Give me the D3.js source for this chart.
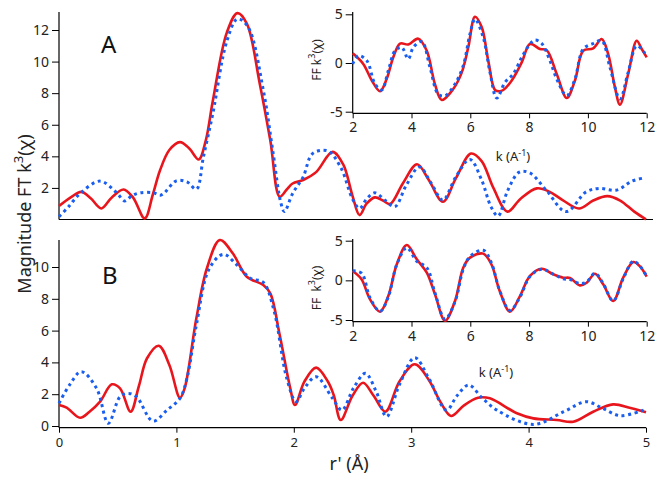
<!DOCTYPE html>
<html><head><meta charset="utf-8">
<script src="https://cdn.jsdelivr.net/npm/d3@7"></script>
<style>
body{margin:0;background:#fff;}
svg{display:block;font-family:"Noto Sans",sans-serif;}
</style></head>
<body><svg id="c" width="663" height="481"></svg>
<script>
// ---- data ----
const rTicks=[0,1,2,3,4,5];
const yTicksA=[2,4,6,8,10,12];
const yTicksB=[0,2,4,6,8,10];
const kTicks=[2,4,6,8,10,12];
const insetYTicks=[-5,0,5];

const redA=[[0,0.85],[0.1,1.4],[0.19,1.75],[0.27,1.35],[0.36,0.7],[0.45,1.4],[0.55,1.9],[0.63,1.4],[0.73,0.07],[0.8,1.6],[0.86,3.1],[0.94,4.4],[1.03,4.9],[1.11,4.5],[1.19,3.8],[1.25,5.0],[1.31,7.5],[1.43,11.85],[1.52,13.07],[1.6,12.4],[1.71,8.6],[1.8,5.0],[1.88,1.44],[1.94,1.9],[1.99,2.28],[2.08,2.5],[2.19,3.0],[2.33,4.28],[2.42,3.5],[2.5,1.5],[2.56,0.28],[2.62,1.0],[2.69,1.4],[2.76,1.2],[2.82,0.98],[2.93,2.3],[3.05,3.5],[3.15,2.5],[3.27,1.12],[3.38,2.6],[3.51,4.18],[3.6,3.7],[3.7,2.0],[3.82,0.5],[3.93,1.3],[4.07,1.97],[4.18,1.75],[4.29,1.23],[4.43,0.7],[4.55,1.2],[4.67,1.48],[4.78,1.2],[4.9,0.5],[5.0,0.01]];
const blueA=[[0,0.18],[0.08,0.8],[0.18,1.65],[0.35,2.43],[0.49,1.7],[0.56,1.17],[0.62,1.5],[0.69,1.69],[0.8,1.7],[0.87,1.55],[1.0,2.45],[1.09,2.38],[1.17,1.92],[1.23,3.96],[1.31,6.7],[1.43,11.3],[1.52,12.7],[1.61,12.2],[1.74,8.2],[1.82,4.4],[1.89,1.04],[1.92,0.5],[1.99,1.65],[2.08,2.7],[2.16,4.17],[2.29,4.34],[2.4,3.3],[2.5,1.3],[2.56,0.7],[2.62,1.3],[2.69,1.69],[2.78,1.2],[2.86,0.81],[2.96,2.2],[3.07,3.33],[3.17,2.3],[3.27,1.23],[3.38,2.7],[3.5,3.8],[3.6,2.5],[3.68,0.8],[3.74,0.22],[3.82,1.8],[3.92,3.0],[4.01,2.95],[4.15,1.86],[4.32,0.5],[4.49,1.75],[4.6,1.97],[4.75,1.86],[4.88,2.43],[4.99,2.64]];
const redB=[[0,1.32],[0.065,1.15],[0.18,0.52],[0.26,0.9],[0.35,1.53],[0.45,2.62],[0.52,2.37],[0.61,0.9],[0.68,2.5],[0.75,4.26],[0.85,5.05],[0.94,3.84],[1.03,1.78],[1.07,2.37],[1.17,6.77],[1.26,9.92],[1.37,11.7],[1.48,10.86],[1.6,9.39],[1.74,8.87],[1.8,8.34],[1.88,5.72],[1.97,2.37],[2.01,1.32],[2.09,2.79],[2.19,3.67],[2.29,2.8],[2.34,1.95],[2.4,0.38],[2.5,1.9],[2.59,2.72],[2.68,1.9],[2.78,0.9],[2.9,2.8],[3.03,3.88],[3.15,2.9],[3.25,1.5],[3.34,0.63],[3.45,1.3],[3.57,1.78],[3.67,1.74],[3.9,0.8],[4.04,0.48],[4.24,0.38],[4.38,0.27],[4.55,0.9],[4.72,1.36],[4.86,1.15],[5.0,0.86]];
const blueB=[[0,1.43],[0.09,2.58],[0.19,3.42],[0.32,2.37],[0.42,0.17],[0.52,1.84],[0.59,2.05],[0.66,1.84],[0.8,0.31],[0.92,1.0],[1.03,1.74],[1.09,3.0],[1.17,6.35],[1.28,9.9],[1.4,10.8],[1.51,10.17],[1.63,9.29],[1.74,9.03],[1.83,7.3],[1.94,3.0],[2.02,1.53],[2.09,2.37],[2.19,3.1],[2.33,1.74],[2.41,1.0],[2.51,2.4],[2.61,3.31],[2.7,2.2],[2.79,0.59],[2.9,2.6],[3.03,4.3],[3.15,3.0],[3.3,1.0],[3.39,1.9],[3.49,2.58],[3.6,1.8],[3.73,1.0],[4.04,0.1],[4.3,0.9],[4.49,1.53],[4.63,1.11],[4.78,0.65],[4.98,1.0]];

const insetRedA=[[2,0.99],[2.36,-0.1],[2.65,-1.8],[2.93,-2.9],[3.16,-1.6],[3.38,0.58],[3.61,2.0],[3.89,1.9],[4.23,2.5],[4.52,1.26],[4.8,-2.2],[5.03,-3.8],[5.42,-2.67],[5.71,-0.96],[5.93,1.6],[6.16,4.75],[6.39,3.66],[6.61,0.24],[6.84,-2.77],[7.0,-2.9],[7.12,-2.77],[7.41,-1.8],[7.75,0.06],[8.03,1.95],[8.37,1.44],[8.6,1.3],[8.94,-1.13],[9.28,-3.6],[9.56,-1.8],[9.84,1.26],[10.18,1.5],[10.47,2.46],[10.69,0.92],[10.92,-2.5],[11.09,-4.28],[11.37,-1.13],[11.66,2.29],[11.83,1.44],[12,0.58]];
const insetBlueA=[[2,-0.1],[2.19,0.75],[2.48,0.24],[2.76,-2.16],[2.99,-2.77],[3.21,-0.8],[3.44,1.26],[3.67,1.6],[3.89,0.41],[4.06,1.6],[4.35,2.2],[4.63,-0.45],[4.91,-3.2],[5.14,-3.36],[5.48,-2.16],[5.76,-0.28],[5.99,2.98],[6.16,4.5],[6.44,2.63],[6.67,-0.96],[6.9,-3.6],[7.18,-1.99],[7.46,-1.13],[7.75,0.58],[8.03,1.95],[8.2,2.36],[8.43,2.0],[8.71,0.24],[8.94,-1.64],[9.28,-3.36],[9.56,-1.64],[9.84,1.44],[10.18,2.0],[10.47,2.29],[10.75,-0.45],[11.09,-3.7],[11.37,-0.96],[11.66,1.78],[11.94,0.99]];
const insetRedB=[[2,1.17],[2.3,0.13],[2.59,-2.4],[2.93,-3.95],[3.21,-1.98],[3.5,2.02],[3.84,4.45],[4.18,2.65],[4.52,0.97],[4.8,-1.77],[5.14,-5.1],[5.48,-2.6],[5.76,1.6],[5.99,2.86],[6.44,3.37],[6.72,2.0],[7.0,-1.35],[7.35,-3.95],[7.69,-1.98],[8.03,0.55],[8.43,1.47],[8.82,0.76],[9.16,0.34],[9.39,0.3],[9.73,-0.63],[9.96,-0.3],[10.24,0.84],[10.52,-0.5],[10.86,-2.6],[11.2,0.34],[11.54,2.3],[11.77,1.77],[12,0.46]];
const insetBlueB=[[2,1.2],[2.3,0.9],[2.59,-2.2],[2.93,-3.9],[3.21,-2.1],[3.5,2.0],[3.84,4.1],[4.18,2.4],[4.52,1.6],[4.8,-1.6],[5.14,-4.9],[5.48,-2.7],[5.76,1.4],[5.99,3.0],[6.44,3.8],[6.72,2.2],[7.0,-1.3],[7.35,-3.8],[7.69,-2.1],[8.03,0.5],[8.43,1.4],[8.82,0.8],[9.16,0.2],[9.39,0.1],[9.73,-0.4],[9.96,-0.2],[10.24,0.9],[10.52,-0.4],[10.86,-2.6],[11.2,0.2],[11.54,2.4],[11.77,1.8],[12,0.5]];

// ---- drawing ----
const svg=d3.select("#c");
const RED="#e8161c", BLUE="#1a5ef0", TXT="#222";
const fmt=d=>String(d);
const x=d3.scaleLinear().domain([0,5]).range([59,646]);
const yA=d3.scaleLinear().domain([0,12]).range([219.5,30]);
const yB=d3.scaleLinear().domain([0,10]).range([426,267]);
const kx=d3.scaleLinear().domain([2,12]).range([352.7,646.7]);
const iyA=d3.scaleLinear().domain([-5,5]).range([111.7,14.3]);
const iyB=d3.scaleLinear().domain([-5,5]).range([320,240.7]);

function hline(y,x1,x2){svg.append("line").attr("x1",x1).attr("x2",x2).attr("y1",y).attr("y2",y).attr("stroke","#000").attr("stroke-width",1.2);}
function vline(xp,y1,y2){svg.append("line").attr("x1",xp).attr("x2",xp).attr("y1",y1).attr("y2",y2).attr("stroke","#000").attr("stroke-width",1.2);}

function yAxis(scale,xp,ticks,size,fs){
  const g=svg.append("g").attr("transform",`translate(${xp},0)`)
   .call(d3.axisLeft(scale).tickValues(ticks).tickFormat(fmt).tickSize(size).tickPadding(3));
  g.select(".domain").remove();
  g.selectAll("text").attr("font-size",fs).attr("fill",TXT).attr("font-family","Noto Sans");
  g.selectAll("line").attr("stroke","#000");
}
function xAxis(scale,yp,ticks,size,fs,pad){
  const g=svg.append("g").attr("transform",`translate(0,${yp})`)
   .call(d3.axisBottom(scale).tickValues(ticks).tickFormat(fmt).tickSize(size).tickPadding(pad));
  g.select(".domain").remove();
  g.selectAll("text").attr("font-size",fs).attr("fill",TXT).attr("font-family","Noto Sans");
  g.selectAll("line").attr("stroke","#000");
}
function curve(data,xs,ys,color,dotted,w){
  const line=d3.line().x(d=>xs(d[0])).y(d=>ys(d[1])).curve(d3.curveCatmullRom.alpha(0.5));
  const p=svg.append("path").attr("d",line(data)).attr("fill","none").attr("stroke",color)
    .attr("stroke-width",w).attr("stroke-linejoin","round");
  if(dotted) p.attr("stroke-dasharray","3,3.6");
}

// top panel A
vline(59,12,219.5); hline(219.5,59,653);
yAxis(yA,59,yTicksA,7,14);
curve(redA,x,yA,RED,false,2.6);
curve(blueA,x,yA,BLUE,true,3);
svg.append("text").attr("x",101).attr("y",53).attr("font-size",24).attr("fill","#111").text("A");

// bottom panel B
vline(59,240,427.7); hline(427.7,59,646);
yAxis(yB,59,yTicksB,7,14);
xAxis(x,427.7,rTicks,5,13,5);
curve(redB,x,yB,RED,false,2.6);
curve(blueB,x,yB,BLUE,true,3);
svg.append("text").attr("x",102).attr("y",283.5).attr("font-size",24).attr("fill","#111").text("B");

// inset A
vline(352.7,12,113.3); hline(113.3,352.7,646.7);
yAxis(iyA,352.7,insetYTicks,7,14);
xAxis(kx,113.3,kTicks,5,14,4);
curve(insetRedA,kx,iyA,RED,false,2.6);
curve(insetBlueA,kx,iyA,BLUE,true,3);

// inset B
vline(352.7,239,321.7); hline(321.7,352.7,646.7);
yAxis(iyB,352.7,insetYTicks,7,14);
xAxis(kx,321.7,kTicks,5,14,4);
curve(insetRedB,kx,iyB,RED,false,2.6);
curve(insetBlueB,kx,iyB,BLUE,true,3);

// labels
function kLabel(cx,by){
  const t=svg.append("text").attr("x",cx).attr("y",by).attr("text-anchor","middle").attr("font-size",13).attr("fill",TXT);
  t.append("tspan").text("k (A");
  t.append("tspan").attr("dy",-5).attr("font-size",9).text("-1");
  t.append("tspan").attr("dy",5).text(")");
}
kLabel(513,160.5); kLabel(496,376.5);

function rotLabel(cx,cy,fs,pre,post,supfs){
  const t=svg.append("text").attr("transform",`translate(${cx},${cy}) rotate(-90)`)
   .attr("text-anchor","middle").attr("font-size",fs).attr("fill",TXT).attr("xml:space","preserve").style("white-space","pre");
  t.append("tspan").text(pre);
  t.append("tspan").attr("dy",-fs*0.45).attr("font-size",supfs).text("3");
  t.append("tspan").attr("dy",fs*0.45).text(post);
}
rotLabel(320.5,60,12,"FF k","(χ)",9);
rotLabel(320.5,288,12,"FF  k","(χ)",9);
rotLabel(31,214,18,"Magnitude FT k","(χ)",13);

svg.append("text").attr("x",349).attr("y",470).attr("text-anchor","middle").attr("font-size",18).attr("fill",TXT).text("r' (Å)");
</script></body></html>
